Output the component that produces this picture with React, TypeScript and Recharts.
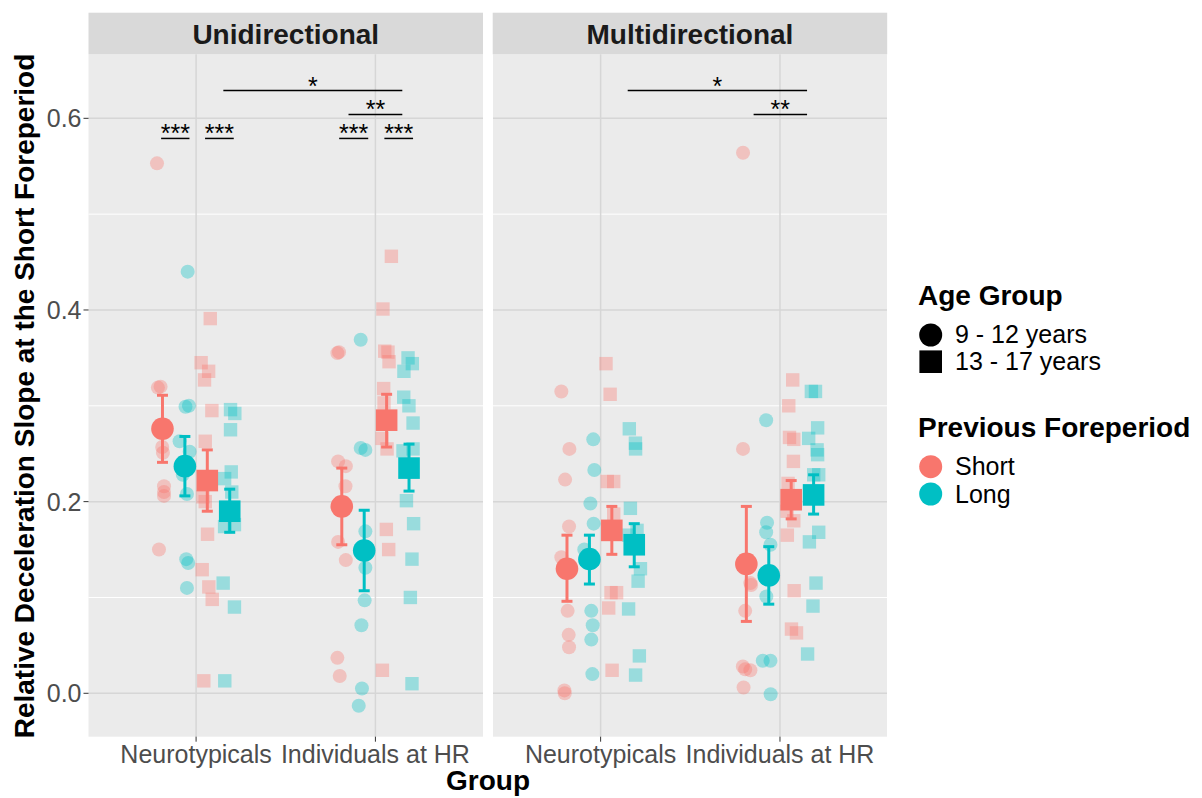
import React from 'react';
import { ScatterChart, Scatter, XAxis, YAxis, CartesianGrid, ReferenceLine, ErrorBar } from 'recharts';

const FONT = '"Liberation Sans", Arial, sans-serif';
const SHORT = '#F8766D';
const LONG = '#00BFC4';

const facets = ['Unidirectional', 'Multidirectional'];
const categories = ['Neurotypicals', 'Individuals at HR'];
const yTicks = [0, 0.2, 0.4, 0.6];
const yMinor = [0.1, 0.3, 0.5];
// order of series: short 9-12, long 9-12, short 13-17, long 13-17
const dodge = [-0.1875, -0.0625, 0.0625, 0.1875];

// individual (jittered) points, [x, slope]
const uniShortYoung = [[0.782,0.553],[0.787,0.319],[0.802,0.320],[0.811,0.257],[0.815,0.251],[0.821,0.216],[0.821,0.210],[0.821,0.206],[0.793,0.150],[1.788,0.355],[1.797,0.356],[1.792,0.242],[1.835,0.237],[1.833,0.216],[1.792,0.158],[1.835,0.139],[1.788,0.037],[1.801,0.018]];
const uniLongYoung = [[0.953,0.440],[0.941,0.299],[0.960,0.300],[0.908,0.263],[0.964,0.252],[0.926,0.228],[0.949,0.208],[0.945,0.140],[0.956,0.136],[0.949,0.110],[1.918,0.369],[1.918,0.256],[1.944,0.254],[1.944,0.169],[1.944,0.131],[1.940,0.097],[1.922,0.071],[1.925,0.005],[1.907,-0.013]];
const uniShortOld = [[1.079,0.391],[1.028,0.345],[1.070,0.336],[1.047,0.327],[1.088,0.295],[1.051,0.263],[1.038,0.205],[1.051,0.200],[1.064,0.166],[1.034,0.129],[1.071,0.111],[1.090,0.098],[1.043,0.013],[2.089,0.456],[2.042,0.401],[2.052,0.357],[2.070,0.356],[2.076,0.346],[2.046,0.318],[2.048,0.303],[2.037,0.266],[2.065,0.255],[2.061,0.171],[2.074,0.150],[2.039,0.024]];
const uniLongOld = [[1.192,0.296],[1.216,0.292],[1.192,0.275],[1.196,0.231],[1.159,0.224],[1.199,0.210],[1.159,0.174],[1.214,0.176],[1.151,0.115],[1.214,0.090],[1.160,0.013],[2.182,0.350],[2.206,0.344],[2.159,0.336],[2.158,0.309],[2.187,0.300],[2.210,0.282],[2.154,0.253],[2.210,0.255],[2.173,0.201],[2.213,0.177],[2.204,0.140],[2.195,0.100],[2.204,0.010]];

const multiShortYoung = [[0.781,0.315],[0.826,0.255],[0.802,0.223],[0.824,0.174],[0.781,0.142],[0.816,0.086],[0.822,0.061],[0.824,0.048],[0.798,0.003],[0.800,0.000],[1.794,0.564],[1.794,0.255],[1.835,0.115],[1.839,0.113],[1.806,0.086],[1.793,0.028],[1.806,0.025],[1.835,0.024],[1.797,0.006]];
const multiLongYoung = [[0.959,0.265],[0.965,0.233],[0.943,0.198],[0.961,0.177],[0.909,0.150],[0.948,0.086],[0.956,0.071],[0.948,0.056],[0.954,0.020],[1.923,0.285],[1.928,0.178],[1.923,0.168],[1.947,0.155],[1.924,0.101],[1.904,0.034],[1.947,0.034],[1.948,-0.001]];
const multiShortOld = [[1.030,0.344],[1.053,0.312],[1.037,0.221],[1.073,0.221],[1.073,0.187],[1.058,0.105],[1.089,0.105],[1.045,0.089],[1.064,0.024],[2.071,0.327],[2.049,0.300],[2.053,0.267],[2.077,0.265],[2.075,0.242],[2.045,0.219],[2.040,0.190],[2.077,0.180],[2.041,0.165],[2.079,0.107],[2.064,0.067],[2.092,0.063]];
const multiLongOld = [[1.160,0.276],[1.194,0.261],[1.195,0.255],[1.166,0.193],[1.156,0.165],[1.203,0.170],[1.222,0.130],[1.209,0.117],[1.156,0.088],[1.216,0.039],[1.195,0.019],[2.175,0.315],[2.198,0.315],[2.210,0.277],[2.160,0.266],[2.207,0.254],[2.210,0.249],[2.188,0.228],[2.216,0.228],[2.216,0.168],[2.164,0.158],[2.201,0.115],[2.184,0.091],[2.154,0.041]];

// means with error bars, per series: [Neurotypicals, Individuals at HR]
const uniMean = [[0.276, 0.195], [0.237, 0.149], [0.222, 0.285], [0.190, 0.235]];
const uniLow = [[0.241, 0.155], [0.206, 0.107], [0.190, 0.257], [0.168, 0.211]];
const uniHigh = [[0.311, 0.235], [0.268, 0.191], [0.254, 0.312], [0.213, 0.260]];

const multiMean = [[0.130, 0.135], [0.140, 0.123], [0.170, 0.202], [0.155, 0.207]];
const multiLow = [[0.096, 0.075], [0.114, 0.093], [0.145, 0.182], [0.132, 0.187]];
const multiHigh = [[0.165, 0.195], [0.165, 0.153], [0.195, 0.222], [0.177, 0.228]];

// significance brackets: [from, to, height, label]
const uniBrackets = [[1.152, 2.15, 0.629, '*'], [1.85, 2.15, 0.604, '**'], [0.805, 0.963, 0.579, '***'], [1.05, 1.21, 0.579, '***'], [1.798, 1.96, 0.579, '***'], [2.05, 2.21, 0.579, '***']];
const multiBrackets = [[1.151, 2.151, 0.629, '*'], [1.853, 2.151, 0.604, '**']];

const seriesColor = [SHORT, LONG, SHORT, LONG];
const seriesSquare = [false, false, true, true];

const toRows = (pts: number[][]) => pts.map(([x, y]) => ({ x, y }));

const meanRows = (mean: number[][], low: number[][], high: number[][], s: number) =>
  mean[s].map((m, c) => ({ x: c + 1 + dodge[s], y: m, err: [m - low[s][c], high[s][c] - m] }));

const marker = (square: boolean, half: number, color: string, opacity: number) => (p: any) =>
  square
    ? <rect x={p.cx - half} y={p.cy - half} width={half * 2} height={half * 2} fill={color} fillOpacity={opacity} />
    : <circle cx={p.cx} cy={p.cy} r={half} fill={color} fillOpacity={opacity} />;

function Panel({ width, showY, points, mean, low, high, brackets }: any) {
  return (
    <ScatterChart width={width} height={798} margin={{ top: 54.3, right: 0, bottom: 0, left: 0 }}>
      <CartesianGrid horizontalValues={yMinor} vertical={false} fill="#EBEBEB" stroke="#FFFFFF" strokeWidth={1} />
      <CartesianGrid horizontalValues={yTicks} verticalValues={[1, 2]} stroke="#D6D6D6" strokeWidth={1.5} />
      <XAxis type="number" dataKey="x" domain={[0.4, 2.6]} ticks={[1, 2]} interval={0} allowDataOverflow
        tickFormatter={(v: number) => categories[v - 1]} axisLine={false} tickSize={5} tickMargin={4} height={61.3}
        tickLine={{ stroke: '#333333' }} tick={{ fill: '#4D4D4D', fontSize: 25, fontFamily: FONT }} />
      <YAxis type="number" dataKey="y" domain={[-0.0453, 0.6668]} ticks={yTicks} allowDataOverflow hide={!showY}
        width={88.5} tickFormatter={(v: number) => v.toFixed(1)} axisLine={false} tickSize={5}
        tickLine={{ stroke: '#333333' }} tick={{ fill: '#4D4D4D', fontSize: 25, fontFamily: FONT }} />
      {brackets.map(([x1, x2, y, label]: any, i: number) => (
        <ReferenceLine key={'b' + i} segment={[{ x: x1, y }, { x: x2, y }]} stroke="#000000" strokeWidth={1.5}
          label={{ value: label, position: 'top', offset: -4, fontSize: 25, fill: '#000000', fontFamily: FONT }} />
      ))}
      {points.map((pts: number[][], s: number) => (
        <Scatter key={'p' + s} data={toRows(pts)} isAnimationActive={false}
          shape={marker(seriesSquare[s], seriesSquare[s] ? 6.7 : 7, seriesColor[s], 0.35)} />
      ))}
      {mean.map((_: any, s: number) => (
        <Scatter key={'m' + s} data={meanRows(mean, low, high, s)} isAnimationActive={false}
          shape={marker(seriesSquare[s], seriesSquare[s] ? 10.8 : 11.3, seriesColor[s], 1)}>
          <ErrorBar dataKey="err" direction="y" width={5.5} strokeWidth={3} stroke={seriesColor[s]} isAnimationActive={false} />
        </Scatter>
      ))}
    </ScatterChart>
  );
}

export default function App() {
  return (
    <div style={{ position: 'absolute', left: 0, top: 0, width: 1202, height: 798, background: '#FFFFFF', fontFamily: FONT }}>
      <div style={{ position: 'absolute', left: 0, top: 0 }}>
        <Panel width={483} showY points={[uniShortYoung, uniLongYoung, uniShortOld, uniLongOld]}
          mean={uniMean} low={uniLow} high={uniHigh} brackets={uniBrackets} />
      </div>
      <div style={{ position: 'absolute', left: 492.7, top: 0 }}>
        <Panel width={394.6} showY={false} points={[multiShortYoung, multiLongYoung, multiShortOld, multiLongOld]}
          mean={multiMean} low={multiLow} high={multiHigh} brackets={multiBrackets} />
      </div>
      <svg width={1202} height={798} style={{ position: 'absolute', left: 0, top: 0, pointerEvents: 'none' }}>
        {facets.map((f, i) => {
          const x = i === 0 ? 88.5 : 492.7;
          const w = 394.5;
          return (
            <g key={f}>
              <rect x={x} y={12.7} width={w} height={41.6} fill="#D9D9D9" />
              <text x={x + w / 2} y={44.3} textAnchor="middle" fontSize={28} fontWeight="bold" fill="#1A1A1A" fontFamily={FONT}>{f}</text>
            </g>
          );
        })}
        <text transform="translate(34,396) rotate(-90)" textAnchor="middle" fontSize={28} fontWeight="bold" fill="#000000" fontFamily={FONT}>
          Relative Deceleration Slope at the Short Foreperiod
        </text>
        <text x={488} y={790} textAnchor="middle" fontSize={28} fontWeight="bold" fill="#000000" fontFamily={FONT}>Group</text>
        <g fontFamily={FONT}>
          <text x={918} y={305} fontSize={28} fontWeight="bold" fill="#000000">Age Group</text>
          <circle cx={930.7} cy={335} r={11.5} fill="#000000" />
          <text x={955} y={342.7} fontSize={25} fill="#000000">9 - 12 years</text>
          <rect x={919.4} y={350.4} width={22.6} height={22.6} fill="#000000" />
          <text x={955} y={370} fontSize={25} fill="#000000">13 - 17 years</text>
          <text x={918} y={436.7} fontSize={28} fontWeight="bold" fill="#000000">Previous Foreperiod</text>
          <circle cx={930.7} cy={466.7} r={11.5} fill={SHORT} />
          <text x={955} y={475} fontSize={25} fill="#000000">Short</text>
          <circle cx={930.7} cy={494} r={11.5} fill={LONG} />
          <text x={955} y={502.7} fontSize={25} fill="#000000">Long</text>
        </g>
      </svg>
    </div>
  );
}
